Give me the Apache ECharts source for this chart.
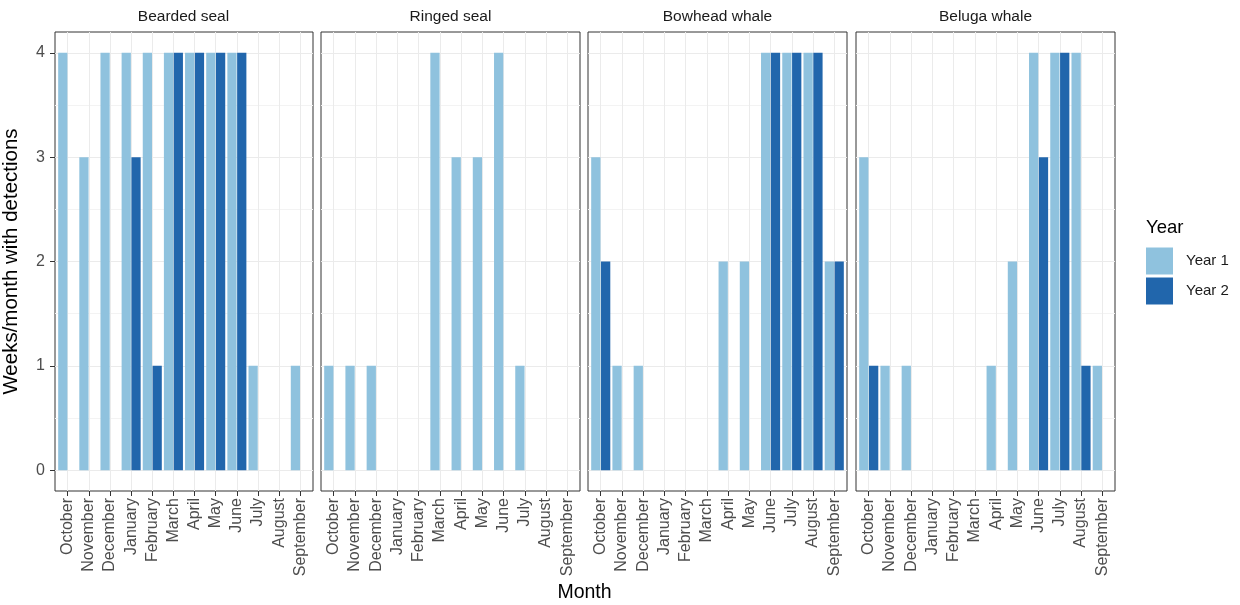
<!DOCTYPE html>
<html>
<head>
<meta charset="utf-8">
<script src="https://cdn.jsdelivr.net/npm/echarts@6/dist/echarts.min.js"></script>
<style>
  html, body { margin: 0; padding: 0; background: #fff; }
  #chart { width: 1240px; height: 605px; }
</style>
</head>
<body>
<div id="chart"></div>
<script>
// ---- data ----
const months = ['October','November','December','January','February','March','April','May','June','July','August','September'];
const species = ['Bearded seal','Ringed seal','Bowhead whale','Beluga whale'];
const seriesNames = ['Year 1','Year 2'];

const beardedYear1 = [4,3,4,4,4,4,4,4,4,1,0,1];
const beardedYear2 = [0,0,0,3,1,4,4,4,4,0,0,0];
const ringedYear1  = [1,1,1,0,0,4,3,3,4,1,0,0];
const ringedYear2  = [0,0,0,0,0,0,0,0,0,0,0,0];
const bowheadYear1 = [3,1,1,0,0,0,2,2,4,4,4,2];
const bowheadYear2 = [2,0,0,0,0,0,0,0,4,4,4,2];
const belugaYear1  = [3,1,1,0,0,0,1,2,4,4,4,1];
const belugaYear2  = [1,0,0,0,0,0,0,0,3,4,1,0];

const yTickValues = [0,1,2,3,4];
const yMinorValues = [0.5,1.5,2.5,3.5];

const speciesData = [
  [beardedYear1, beardedYear2],
  [ringedYear1, ringedYear2],
  [bowheadYear1, bowheadYear2],
  [belugaYear1, belugaYear2]
];

// ---- layout / style ----
const FONT = '"Liberation Sans", Arial, Helvetica, sans-serif';
const colors = ['#8FC2DE', '#2166AC'];
const panelLefts = [54, 321, 588, 856];
const panelWidth = 259;
const panelTop = 32;
const panelHeight = 459;
const xTickValues = months.map((m, i) => i + 1);

const chart = echarts.init(document.getElementById('chart'), null, { renderer: 'canvas' });

const titles = species.map((s, i) => ({
  text: s,
  left: panelLefts[i] + panelWidth / 2,
  top: 8.5,
  textAlign: 'center',
  padding: 0,
  textStyle: { fontFamily: FONT, fontSize: 15.5, fontWeight: 'normal', color: '#1A1A1A' }
}));
titles.push({
  text: 'Year', left: 1146, top: 218, padding: 0,
  textStyle: { fontFamily: FONT, fontSize: 18.5, fontWeight: 'normal', color: '#000' }
});
titles.push({
  text: 'Month', left: (panelLefts[0] + panelLefts[3] + panelWidth) / 2, top: 583, textAlign: 'center', padding: 0,
  textStyle: { fontFamily: FONT, fontSize: 19.5, fontWeight: 'normal', color: '#000' }
});

const grids = species.map((s, i) => ({
  left: panelLefts[i], top: panelTop, width: panelWidth, height: panelHeight,
  show: true, borderColor: '#333333', borderWidth: 1, backgroundColor: 'transparent'
}));

const xAxes = species.map((s, i) => ({
  type: 'value', gridIndex: i, min: 0.4, max: 12.6, position: 'bottom',
  axisLine: { show: false, onZero: false },
  axisTick: { show: true, length: 5, customValues: xTickValues, lineStyle: { color: '#333333', width: 1 } },
  axisLabel: {
    customValues: xTickValues, rotate: 90, margin: 7,
    formatter: v => months[Math.round(v) - 1],
    fontFamily: FONT, fontSize: 16, color: '#4D4D4D'
  },
  splitLine: { show: true, lineStyle: { color: '#EBEBEB', width: 1 } }
}));

const yAxes = [];
species.forEach((s, i) => {
  yAxes.push({
    type: 'value', gridIndex: i, min: -0.2, max: 4.2, position: 'left',
    axisLine: { show: false, onZero: false },
    axisTick: { show: i === 0, length: 5, customValues: yTickValues, lineStyle: { color: '#333333', width: 1 } },
    axisLabel: { show: i === 0, customValues: yTickValues, margin: 10, fontFamily: FONT, fontSize: 16, color: '#4D4D4D' },
    splitLine: { show: true, lineStyle: { color: '#EBEBEB', width: 1 } },
    name: i === 0 ? 'Weeks/month with detections' : '',
    nameLocation: 'middle', nameGap: 33,
    nameTextStyle: { fontFamily: FONT, fontSize: 20.5, color: '#000' }
  });
});
species.forEach((s, i) => {
  yAxes.push({
    type: 'value', gridIndex: i, min: -0.2, max: 4.2, position: 'right',
    axisLine: { show: false, onZero: false },
    axisTick: { show: false, customValues: yMinorValues },
    axisLabel: { show: false, customValues: yMinorValues },
    splitLine: { show: true, lineStyle: { color: '#F3F3F3', width: 1 } }
  });
});

const series = [];
speciesData.forEach((pair, i) => {
  pair.forEach((vals, k) => {
    series.push({
      type: 'bar', name: seriesNames[k],
      xAxisIndex: i, yAxisIndex: i,
      data: vals.map((v, m) => [xTickValues[m], v]),
      barGap: '6%', barCategoryGap: '10%',
      itemStyle: { color: colors[k], borderWidth: 0 },
      emphasis: { disabled: true }
    });
  });
});

chart.setOption({
  animation: false,
  backgroundColor: '#FFFFFF',
  textStyle: { fontFamily: FONT },
  title: titles,
  legend: {
    data: seriesNames, orient: 'vertical', left: 1146, top: 247.5,
    padding: 0, itemWidth: 27, itemHeight: 27, itemGap: 3, icon: 'rect',
    selectedMode: false,
    textStyle: { fontFamily: FONT, fontSize: 15, color: '#1A1A1A', padding: [0, 0, 0, 8] }
  },
  grid: grids,
  xAxis: xAxes,
  yAxis: yAxes,
  series: series
});
</script>
</body>
</html>
